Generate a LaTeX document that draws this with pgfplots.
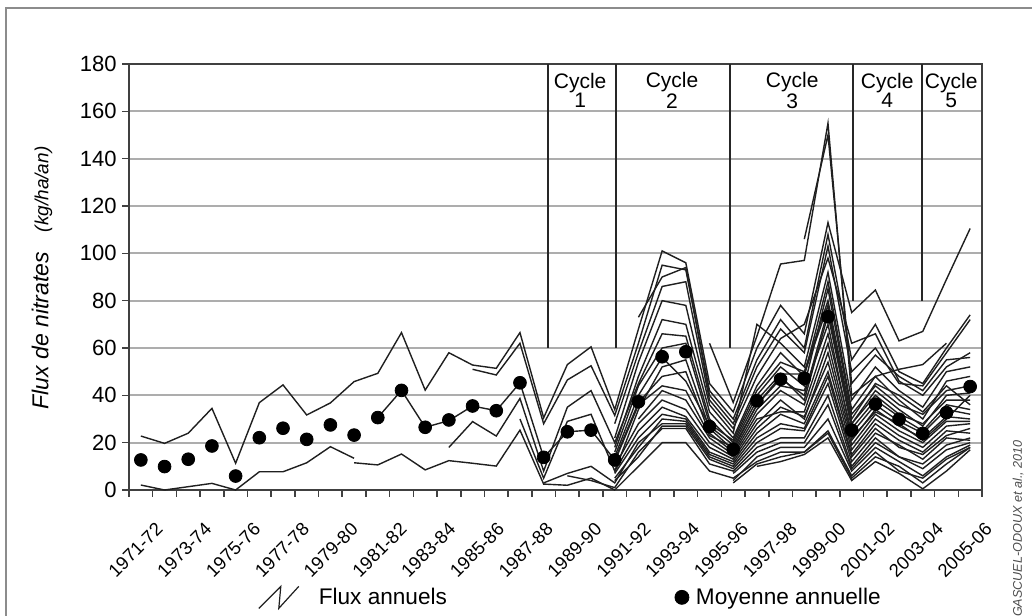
\documentclass[border=0pt]{standalone}
\usepackage{fontspec}
\setmainfont{Liberation Sans}
\usepackage{pgfplots}
\pgfplotsset{compat=1.18}
\pgfplotsset{fl/.style={black!88, line width=0.7pt, mark=none, forget plot}}
\begin{document}
\begin{tikzpicture}
\useasboundingbox (0,0) rectangle (516pt,307.5pt);
\draw[black!45, line width=1pt] (3pt,-5pt) -- (3pt,303.5pt) -- (520pt,303.5pt);
\node[rotate=90] at (21pt,168.5pt) {{\fontsize{11.5}{13}\selectfont\itshape Flux de nitrates}\hspace{10pt}{\fontsize{9.5}{11}\selectfont\itshape (kg/ha/an)}};
\node[rotate=90, anchor=east, text=black!70, font=\fontsize{6.3}{7}\selectfont\itshape, inner sep=0pt] at (509pt,87.5pt) {GASCUEL-ODOUX et al., 2010};
\begin{axis}[
  at={(64.5pt,62.5pt)}, anchor=south west, scale only axis,
  width=426.5pt, height=213pt,
  xmin=-0.5, xmax=35.5, ymin=0, ymax=180,
  axis line style={black!75, line width=1pt},
  ytick={0,20,...,180},
  ymajorgrids, grid style={black!32, line width=0.9pt},
  xtick={0,2.0588,4.1176,6.1765,8.2353,10.2941,12.3529,14.4118,16.4706,18.5294,20.5882,22.6471,24.7059,26.7647,28.8235,30.8824,32.9412,35},
  xticklabels={1971-72,1973-74,1975-76,1977-78,1979-80,1981-82,1983-84,1985-86,1987-88,1989-90,1991-92,1993-94,1995-96,1997-98,1999-00,2001-02,2003-04,2005-06},
  minor xtick={-0.5,0.5,...,35.5},
  major x tick style={draw=none},
  minor tick length=3.5pt, major tick length=3.5pt,
  tick style={black!75, line width=0.8pt},
  tick align=outside, tick pos=left,
  /pgf/number format/assume math mode=true,
  yticklabel style={font=\fontsize{11}{13}\selectfont, inner sep=0pt, xshift=-2.5pt},
  xticklabel style={font=\fontsize{9.2}{11}\selectfont, inner sep=0pt, xshift=7pt, yshift=-12pt, rotate=45, anchor=north east},
  legend style={at={(0.151,-0.252)}, anchor=west, draw=none, fill=none, inner sep=0pt,
    nodes={inner sep=0pt},
    font=\fontsize{11.3}{13}\selectfont, legend columns=2,
    /tikz/every even column/.append style={column sep=110.5pt}},
  legend cell align=left,
  clip=false,
]
\addlegendimage{legend image code/.code={\draw[black!88, line width=0.6pt] (0pt,-5.5pt) -- (11pt,5.5pt) -- (10pt,-5.5pt) -- (20pt,5.5pt); \path[draw=none] (0pt,0pt) -- (30pt,0pt);}}
\addlegendentry{Flux annuels}
\addlegendimage{legend image code/.code={\draw[black, mark=*, mark size=3.5pt] plot coordinates {(7pt,0pt)}; \path[draw=none] (0pt,0pt) -- (14pt,0pt);}}
\addlegendentry{Moyenne annuelle}

% cycle separators
\draw[black!85, line width=0.8pt] (axis cs:17.19,60) -- (axis cs:17.19,180);
\draw[black!85, line width=0.8pt] (axis cs:20.06,60) -- (axis cs:20.06,180);
\draw[black!85, line width=0.8pt] (axis cs:24.87,60) -- (axis cs:24.87,180);
\draw[black!85, line width=0.8pt] (axis cs:30.06,80) -- (axis cs:30.06,180);
\draw[black!85, line width=0.8pt] (axis cs:32.97,80) -- (axis cs:32.97,180);
\node[align=center, font=\fontsize{10.5}{9.5}\selectfont] at (axis cs:18.54,169) {Cycle\\1};
\node[align=center, font=\fontsize{10.5}{9.5}\selectfont] at (axis cs:22.42,169) {Cycle\\2};
\node[align=center, font=\fontsize{10.5}{9.5}\selectfont] at (axis cs:27.49,169) {Cycle\\3};
\node[align=center, font=\fontsize{10.5}{9.5}\selectfont] at (axis cs:31.5,169) {Cycle\\4};
\node[align=center, font=\fontsize{10.5}{9.5}\selectfont] at (axis cs:34.2,169) {Cycle\\5};

% annual fluxes
\addplot[fl] coordinates {(0,22.8)(1,19.7)(2,24)(3,34.5)(4,11.3)(5,36.9)(6,44.4)(7,31.7)(8,36.8)(9,45.8)(10,49.3)(11,66.5)(12,42.2)(13,58)(14,52.8)(15,51.4)(16,66.5)(17,30.5)(18,53)(19,60.5)(20,34)(21,68)(22,101)(23,96)(24,45)(25,33)(26,60)(27,78)(28,66)(29,113)(30,75)(31,84.5)(32,63)(33,67)(34,89)(35,110.5)};
\addplot[fl] coordinates {(0,2.1)(1,0)(2,1.4)(3,2.8)(4,0)(5,7.7)(6,7.7)(7,11.5)(8,18.3)(9,13.4)};
\addplot[fl] coordinates {(9,11.5)(10,10.6)(11,15.2)(12,8.5)(13,12.4)(14,11.3)(15,10.1)(16,25.3)(17,2.5)(18,2)(19,5)(20,0)(21,10)(22,20)(23,20)(24,8)(25,5)(26,12)(27,16)(28,16)(29,25)(30,6)(31,16)(32,8)(33,5)(34,13)(35,18)};
\addplot[fl] coordinates {(10,30.6)(11,42.1)(12,26.5)(13,29.3)(14,35.5)(15,33.5)(16,45.3)(17,13.8)(18,24.6)(19,25.3)(20,12.7)(21,37)(22,48)(23,50)(24,24)(25,16)(26,34)(27,44)(28,42)(29,70)(30,22)(31,33)(32,28)(33,21)(34,30)(35,40)};
\addplot[fl] coordinates {(13,18)(14,28.9)(15,22.8)(16,38.7)(17,8)(18,35)(19,42)(20,20)(21,45)(22,66)(23,65)(24,30)(25,20)(26,40)(27,52)(28,44)(29,85)(30,32)(31,44)(32,36)(33,32)(34,42)(35,44)};
\addplot[fl] coordinates {(14,51)(15,48.6)(16,62)(17,28)(18,46.5)(19,52.5)(20,31.5)(21,62)(22,95)(23,93)(24,42)(25,30)(26,55)(27,72)(28,60)(29,108)(30,55)(31,70)(32,50)(33,45)(34,60)(35,74)};
\addplot[fl] coordinates {(16,30)(17,5)(18,29)(19,32)(20,8)(21,34)(22,52)(23,55)(24,26)(25,17)(26,36)(27,47)(28,40)(29,76)(30,28)(31,40)(32,32)(33,28)(34,38)(35,38)};
\addplot[fl] coordinates {(18,6)(19,4)(20,1)(21,16)(22,26)(23,26)(24,11)(25,8)(26,18)(27,22)(28,22)(29,40)(30,10)(31,22)(32,14)(33,11)(34,19)(35,22)};
\addplot[fl] coordinates {(17,3)(18,7)(19,10)(20,3)(21,20)(22,28)(23,28)(24,14)(25,10)(26,22)(27,28)(28,26)(29,48)(30,14)(31,26)(32,18)(33,15)(34,23)(35,26)};
\addplot[fl] coordinates {(21,73)(22,90)(23,94)(24,40)(25,28)(26,52)(27,68)(28,58)(29,103)(30,50)(31,60)(32,45)(33,44)(34,58)(35,72)};
\addplot[fl] coordinates {(24,62)(25,37)(26,65)(27,95.5)(28,97)(29,155)(30,40)(31,48)(32,51)(33,53)(34,62)};
\addplot[fl] coordinates {(28,106)(29,150)(30,45)(31,57)(32,48)(33,42)(34,55)(35,56)};
\addplot[fl] coordinates {(20,28)(21,58)(22,86)(23,88)(24,38)(25,26)(26,48)(27,64)(28,70)(29,98)(30,62)(31,66)(32,46)(33,40)(34,52)(35,58)};
\addplot[fl] coordinates {(20,22)(21,54)(22,80)(23,78)(24,36)(25,24)(26,70)(27,62)(28,52)(29,92)(30,38)(31,52)(32,42)(33,35)(34,50)(35,52)};
\addplot[fl] coordinates {(20,18)(21,48)(22,72)(23,70)(24,33)(25,22)(26,44)(27,58)(28,48)(29,88)(30,34)(31,48)(32,38)(33,30)(34,46)(35,48)};
\addplot[fl] coordinates {(20,16)(21,44)(22,60)(23,62)(24,28)(25,21)(26,42)(27,54)(28,50)(29,80)(30,30)(31,45)(32,40)(33,33)(34,44)(35,36)};
\addplot[fl] coordinates {(20,14)(21,40)(22,56)(23,46)(24,27)(25,19)(26,38)(27,49)(28,49)(29,78)(30,28)(31,42)(32,34)(33,27)(34,40)(35,41)};
\addplot[fl] coordinates {(20,12)(21,36)(22,44)(23,42)(24,23)(25,18)(26,36)(27,48)(28,38)(29,74)(30,26)(31,38)(32,31)(33,25)(34,36)(35,34)};
\addplot[fl] coordinates {(21,30)(22,42)(23,38)(24,22)(25,15)(26,32)(27,42)(28,36)(29,66)(30,24)(31,36)(32,29)(33,24)(34,34)(35,32)};
\addplot[fl] coordinates {(20,10)(21,28)(22,38)(23,34)(24,20)(25,14)(26,30)(27,33)(28,33)(29,62)(30,21)(31,34)(32,27)(33,22)(34,31)(35,30)};
\addplot[fl] coordinates {(20,8)(21,25)(22,35)(23,31)(24,18)(25,13)(26,28)(27,38)(28,30)(29,58)(30,19)(31,32)(32,25)(33,20)(34,29)(35,29)};
\addplot[fl] coordinates {(20,7)(21,22)(22,32)(23,30)(24,16)(25,12)(26,26)(27,35)(28,31)(29,54)(30,17)(31,30)(32,23)(33,18)(34,27)(35,28)};
\addplot[fl] coordinates {(20,5)(21,18)(22,30)(23,29)(24,15)(25,11)(26,24)(27,32)(28,28)(29,50)(30,15)(31,28)(32,21)(33,16)(34,25)(35,24)};
\addplot[fl] coordinates {(20,4)(21,14)(22,27)(23,27)(24,13)(25,9)(26,20)(27,26)(28,25)(29,45)(30,12)(31,24)(32,19)(33,13)(34,22)(35,21)};
\addplot[fl] coordinates {(25,7)(26,16)(27,20)(28,20)(29,36)(30,9)(31,20)(32,14)(33,9)(34,17)(35,20)};
\addplot[fl] coordinates {(25,4)(26,14)(27,18)(28,18)(29,30)(30,8)(31,18)(32,12)(33,6)(34,14)(35,19)};
\addplot[fl] coordinates {(25,3)(26,11)(27,14)(28,16)(29,24)(30,5)(31,14)(32,10)(33,3)(34,11)(35,18)};
\addplot[fl] coordinates {(26,10)(27,12)(28,15)(29,22)(30,4)(31,12)(32,7)(33,0.5)(34,8)(35,17)};

% annual means
\addplot[only marks, mark=*, mark size=3.2pt, black, forget plot] coordinates {(0,12.7)(1,9.9)(2,13.0)(3,18.6)(4,5.9)(5,22.1)(6,26.1)(7,21.4)(8,27.5)(9,23.2)(10,30.6)(11,42.1)(12,26.5)(13,29.6)(14,35.5)(15,33.5)(16,45.3)(17,13.8)(18,24.6)(19,25.3)(20,12.7)(21,37.3)(22,56.3)(23,58.4)(24,26.8)(25,17.2)(26,37.7)(27,46.8)(28,47.2)(29,73.2)(30,25.3)(31,36.3)(32,29.9)(33,23.9)(34,32.7)(35,43.7)};
\end{axis}
\end{tikzpicture}
\end{document}
